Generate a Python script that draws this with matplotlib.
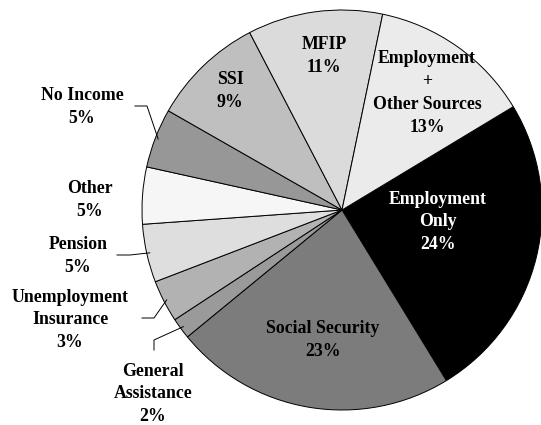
import matplotlib
matplotlib.use("Agg")
import matplotlib.pyplot as plt
import numpy as np

# slices in drawing order, clockwise from the black wedge
categories = ["Employment Only", "Social Security", "General Assistance",
              "Unemployment Insurance", "Pension", "Other", "No Income",
              "SSI", "MFIP", "Employment + Other Sources"]
shares = [24.9, 22.8, 1.7, 3.4, 4.7, 4.6, 4.8, 9.1, 10.9, 13.1]
pct_labels = ["24%", "23%", "2%", "3%", "5%", "5%", "5%", "9%", "11%", "13%"]
name_lines = ["Employment\nOnly", "Social Security", "General\nAssistance",
              "Unemployment\nInsurance", "Pension", "Other", "No Income",
              "SSI", "MFIP", "Employment\n+\nOther Sources"]
colors = ["#000000", "#7c7c7c", "#9a9a9a", "#b2b2b2", "#dedede",
          "#f6f6f6", "#979797", "#bfbfbf", "#dbdbdb", "#ebebeb"]

W, H = 541, 425
CX, CY, R = 342, 210, 200


def px(x, y):
    # pixel position -> data coords (pie radius = 1)
    return (x - CX) / R, (CY - y) / R


fig = plt.figure(figsize=(W / 100, H / 100), dpi=100)
ax = fig.add_axes([0, 0, 1, 1])
wedges, _ = ax.pie(shares, colors=colors, startangle=31.1, counterclock=False,
                   wedgeprops=dict(edgecolor="black", linewidth=0.7))
ax.set_xlim(-CX / R, (W - CX) / R)
ax.set_ylim(-(H - CY) / R, CY / R)
ax.set_aspect("equal")
ax.axis("off")

font = dict(family="Liberation Serif", weight="bold", fontsize=12.8,
            ha="center", va="center", linespacing=1.45)

# label text centres in pixels (layout only)
inside = {
    "Employment Only": (438, 222),
    "Social Security": (323, 340),
    "SSI": (230, 91),
    "MFIP": (324, 56),
    "Employment + Other Sources": (427, 93),
}
outside = {
    "General Assistance": (153, 394),
    "Unemployment Insurance": (70, 320),
    "Pension": (78, 256),
    "Other": (90, 200),
    "No Income": (82, 107),
}
# leader line: start point and elbow (pixels), end goes to wedge edge
leaders = {
    "No Income": [(135, 106), (147, 106)],
    "Pension": [(117, 255), (130, 255)],
    "Unemployment Insurance": [(142, 318), (154, 318)],
    "General Assistance": [(154, 350), (154, 340)],
}

for i, cat in enumerate(categories):
    text = name_lines[i] + "\n" + pct_labels[i]
    if cat in inside:
        x, y = px(*inside[cat])
        c = "white" if colors[i] == "#000000" else "black"
        ax.text(x, y, text, color=c, **font)
    else:
        x, y = px(*outside[cat])
        ax.text(x, y, text, color="black", **font)
    if cat in leaders:
        w = wedges[i]
        mid = np.deg2rad((w.theta1 + w.theta2) / 2)
        pts = [px(*p) for p in leaders[cat]]
        pts.append((0.985 * np.cos(mid), 0.985 * np.sin(mid)))
        xs, ys = zip(*pts)
        ax.plot(xs, ys, color="black", lw=0.7)

fig.savefig("out.png", dpi=100)
